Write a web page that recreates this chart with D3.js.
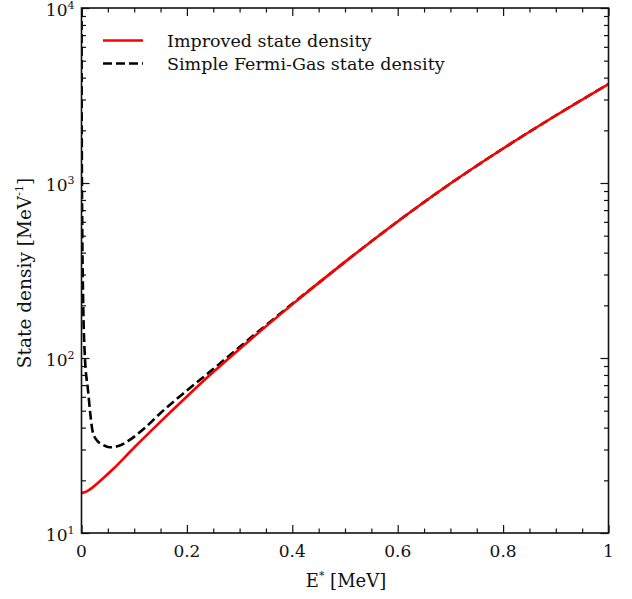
<!DOCTYPE html>
<html>
<head>
<meta charset="utf-8">
<script src="https://cdn.jsdelivr.net/npm/d3@7"></script>
<style>
  body { margin: 0; background: #fff; }
  text { font-family: "DejaVu Serif", serif; fill: #111; }
  .domain { display: none; }
</style>
</head>
<body>
<svg id="chart"></svg>
<script>
// readings
var energy_red = [0, 0.01, 0.02, 0.03, 0.04, 0.06, 0.1, 0.15, 0.2, 0.25, 0.3, 0.35, 0.4, 0.45, 0.5, 0.6, 0.7, 0.8, 0.9, 1.0]
var density_red = [16.9, 17.3, 18.1, 19.2, 20.4, 23.2, 30.8, 43.3, 60.3, 83.1, 112.7, 151.6, 202.5, 268.7, 354.2, 603, 993, 1574, 2431, 3679]

var energy_fg = [0.0001, 0.0005, 0.0015, 0.003, 0.0061, 0.0123, 0.0218, 0.0313, 0.04, 0.0535, 0.07, 0.09, 0.12, 0.15, 0.2, 0.25, 0.3, 0.35, 0.4, 0.45, 0.5, 0.6, 0.7, 0.8, 0.9, 1.0]
var density_fg = [10000, 2000, 520, 225, 106, 65.6, 37.3, 33.3, 32.0, 30.9, 31.4, 33.8, 39.8, 48.5, 65.2, 86.5, 115.6, 153.8, 204.1, 268.7, 354.2, 603, 993, 1574, 2431, 3679]

var x_major = [0, 0.2, 0.4, 0.6, 0.8, 1]
var x_labels = ["0", "0.2", "0.4", "0.6", "0.8", "1"]
var y_major = [10, 100, 1000, 10000]
var y_exp = ["1", "2", "3", "4"]
var legend_names = ["Improved state density", "Simple Fermi-Gas state density"]

var W = 632, H = 599
var margin = {top: 8, right: 23.5, bottom: 66, left: 81.5}

var svg = d3.select("#chart").attr("width", W).attr("height", H)

var x = d3.scaleLinear().domain([0, 1]).range([margin.left, W - margin.right])
var y = d3.scaleLog().domain([10, 10000]).range([H - margin.bottom, margin.top])

var x_minor = d3.range(0, 1.0001, 0.05).map(function(d){ return +d.toFixed(2) })
    .filter(function(d){ return x_major.indexOf(d) < 0 })
var y_minor = []
y_major.slice(0, 3).forEach(function(b){
    for (var k = 2; k <= 9; k++) y_minor.push(b * k)
})

svg.append("clipPath").attr("id", "clip")
   .append("rect")
   .attr("x", x(0)).attr("y", y(10000))
   .attr("width", x(1) - x(0)).attr("height", y(10) - y(10000))

// ticks, all pointing inward
function ticks(axis, vals, size, tr){
    svg.append("g")
       .attr("transform", tr)
       .call(axis.tickValues(vals).tickSize(size).tickFormat(""))
       .selectAll("line").attr("stroke", "#111").attr("stroke-width", 1.2)
}
ticks(d3.axisBottom(x), x_major, -8, "translate(0," + y(10) + ")")
ticks(d3.axisBottom(x), x_minor, -4.5, "translate(0," + y(10) + ")")
ticks(d3.axisTop(x), x_major, -8, "translate(0," + y(10000) + ")")
ticks(d3.axisTop(x), x_minor, -4.5, "translate(0," + y(10000) + ")")
ticks(d3.axisLeft(y), y_major, -8, "translate(" + x(0) + ",0)")
ticks(d3.axisLeft(y), y_minor, -4.5, "translate(" + x(0) + ",0)")
ticks(d3.axisRight(y), y_major, -8, "translate(" + x(1) + ",0)")
ticks(d3.axisRight(y), y_minor, -4.5, "translate(" + x(1) + ",0)")

// curves
var line_red = d3.line()
    .x(function(d, i){ return x(energy_red[i]) })
    .y(function(d){ return y(d) })
    .curve(d3.curveMonotoneX)
var line_fg = d3.line()
    .x(function(d, i){ return x(energy_fg[i]) })
    .y(function(d){ return y(d) })
    .curve(d3.curveMonotoneX)

svg.append("path")
   .attr("clip-path", "url(#clip)")
   .attr("d", line_fg(density_fg))
   .attr("fill", "none")
   .attr("stroke", "black")
   .attr("stroke-width", 2.6)
   .attr("stroke-dasharray", "9,4")

svg.append("path")
   .attr("clip-path", "url(#clip)")
   .attr("d", line_red(density_red))
   .attr("fill", "none")
   .attr("stroke", "#ff0000")
   .attr("stroke-width", 2.6)

// frame
svg.append("rect")
   .attr("x", x(0)).attr("y", y(10000))
   .attr("width", x(1) - x(0)).attr("height", y(10) - y(10000))
   .attr("fill", "none")
   .attr("stroke", "#111")
   .attr("stroke-width", 1.6)

// tick labels
svg.append("g").selectAll("text")
   .data(x_major).enter().append("text")
   .attr("x", function(d){ return x(d) })
   .attr("y", y(10) + 24)
   .attr("text-anchor", "middle")
   .attr("font-size", "17px")
   .text(function(d, i){ return x_labels[i] })

var ylab = svg.append("g").selectAll("text")
   .data(y_major).enter().append("text")
   .attr("x", x(0) - 7)
   .attr("y", function(d){ return y(d) + 8 })
   .attr("text-anchor", "end")
   .attr("font-size", "17px")
ylab.append("tspan").text("10")
ylab.append("tspan").attr("dy", -7).attr("font-size", "11px")
    .text(function(d, i){ return y_exp[i] })

// axis titles
var xt = svg.append("text")
   .attr("x", 346).attr("y", 587)
   .attr("text-anchor", "middle")
   .attr("font-size", "18px")
xt.append("tspan").text("E")
xt.append("tspan").attr("dy", -8).attr("font-size", "11px").text("*")
xt.append("tspan").attr("dy", 8).text(" [MeV]")

var yt = svg.append("text")
   .attr("transform", "translate(31,273) rotate(-90)")
   .attr("text-anchor", "middle")
   .attr("font-size", "18.5px")
yt.append("tspan").text("State densiy [MeV")
yt.append("tspan").attr("dy", -8).attr("font-size", "11px").text("-1")
yt.append("tspan").attr("dy", 8).text("]")

// legend
var leg = svg.append("g")
leg.selectAll("line")
   .data(legend_names).enter().append("line")
   .attr("x1", 103).attr("x2", 143)
   .attr("y1", function(d, i){ return 40.5 + i * 23 })
   .attr("y2", function(d, i){ return 40.5 + i * 23 })
   .attr("stroke", function(d, i){ return i == 0 ? "#ff0000" : "black" })
   .attr("stroke-width", 2.6)
   .attr("stroke-dasharray", function(d, i){ return i == 0 ? null : "9,4" })
leg.selectAll("text")
   .data(legend_names).enter().append("text")
   .attr("x", 167)
   .attr("y", function(d, i){ return 47 + i * 23 })
   .attr("font-size", "17.5px")
   .text(function(d){ return d })
</script>
</body>
</html>
